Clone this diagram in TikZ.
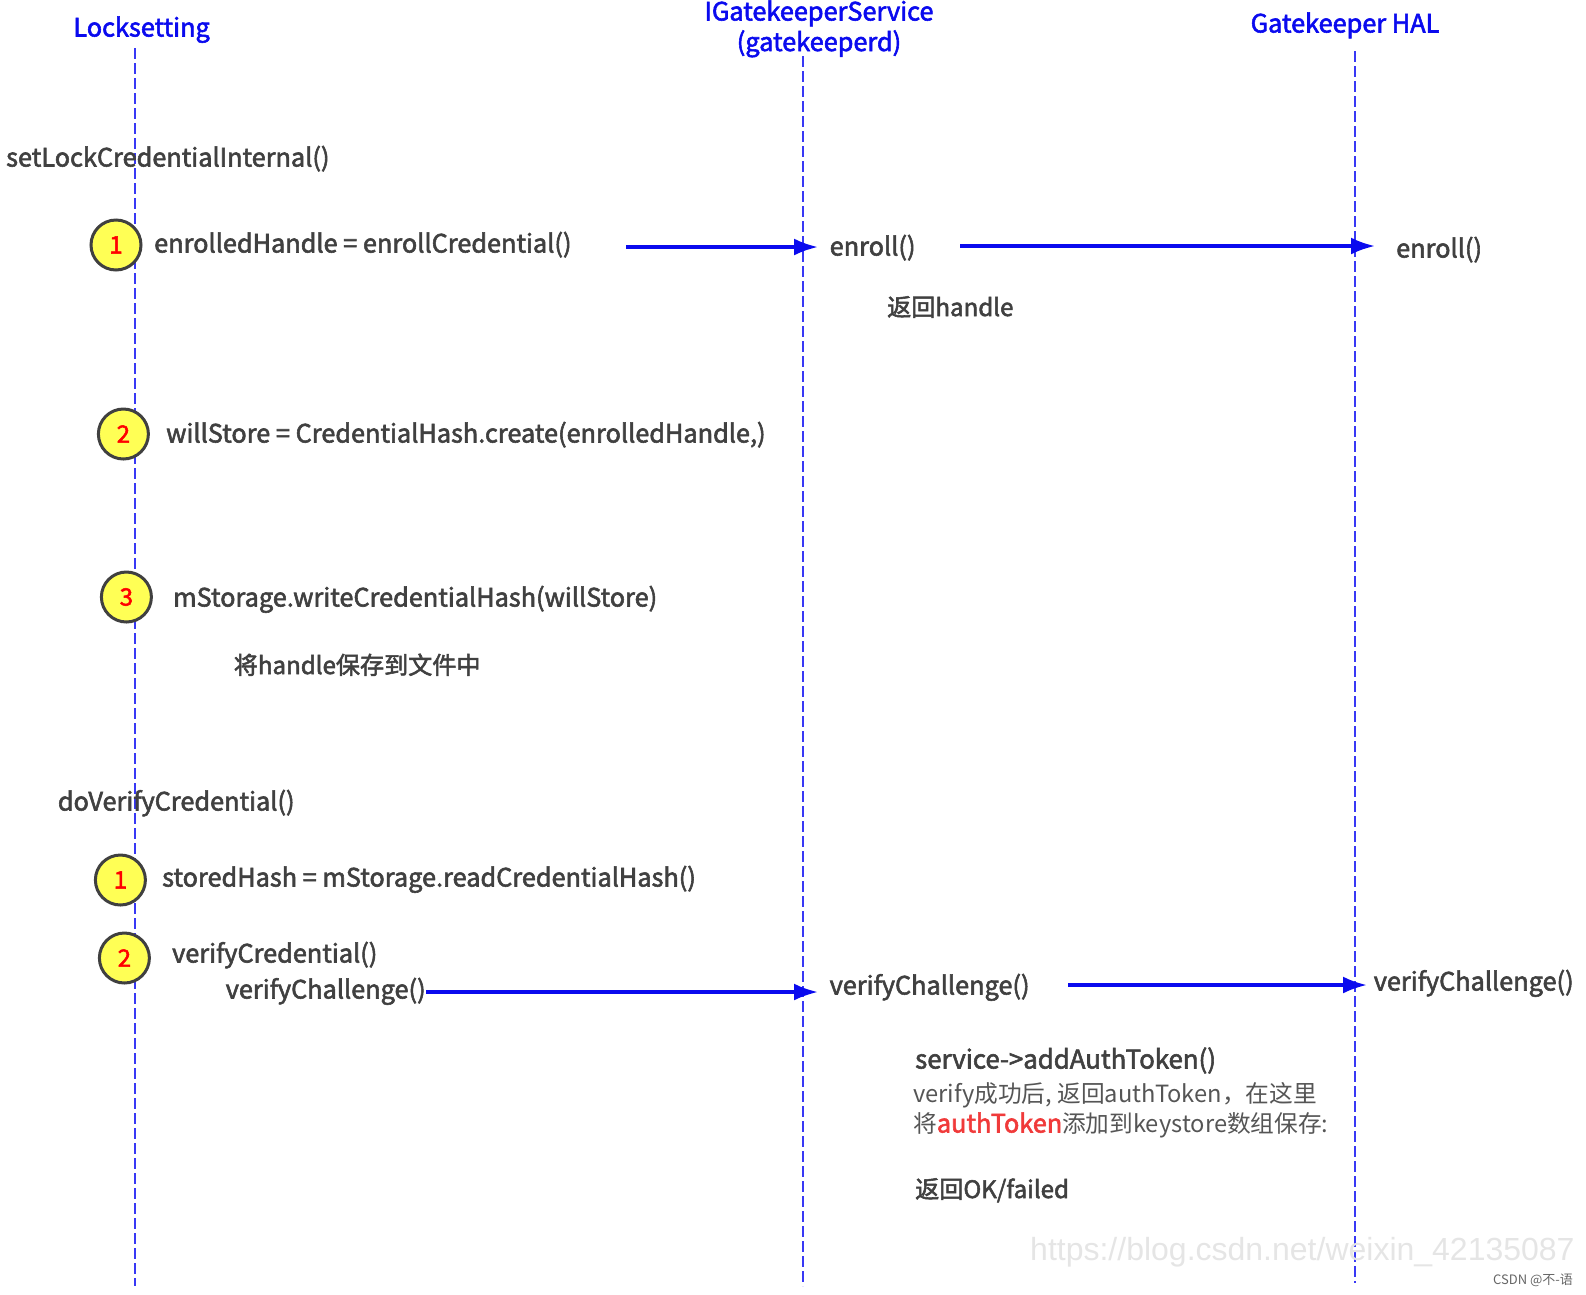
\documentclass[tikz,border=0pt]{standalone}
\usepackage{fontspec}
\setmainfont{Noto Sans CJK SC}
\newfontfamily\boldcjk[FakeBold=2.2]{Noto Sans CJK SC}
\newfontfamily\urlfont{Liberation Sans}
\usetikzlibrary{arrows.meta}
\definecolor{txtgray}{HTML}{404040}
\definecolor{notegray}{HTML}{555555}
\definecolor{lifeblue}{HTML}{3838F5}
\definecolor{headblue}{HTML}{0A0AEE}
\definecolor{markyellow}{HTML}{FFFF55}
\definecolor{tokenred}{HTML}{F03A3A}

\tikzset{
  Msg/.style = {anchor=west, inner sep=0pt, text height=22pt, text depth=3pt, text=txtgray, font=\fontsize{25.3}{25.3}\selectfont\boldcjk},
  MsgCjk/.style = {Msg, font=\fontsize{24.1}{24.1}\selectfont\boldcjk},
  Plain/.style = {Msg, text=notegray, font=\fontsize{23.7}{23.7}\selectfont\rmfamily},
  Head/.style = {inner sep=0pt, text height=22pt, text depth=3pt, text=headblue, font=\fontsize{25.3}{25.3}\selectfont\boldcjk},
  Life/.style = {draw=lifeblue, line width=1.8pt, dash pattern=on 11pt off 4pt},
  Call/.style = {draw=headblue, line width=3.2pt, -{Latex[length=24pt, width=17pt]}},
  Mark/.style = {circle, draw=txtgray, line width=3pt, fill=markyellow, minimum size=50pt, inner sep=0pt, text=red, font=\fontsize{24}{24}\selectfont\boldcjk}
}

\begin{document}
\begin{tikzpicture}[x=1pt, y=-1pt]
   \useasboundingbox (0,0) rectangle (1586,1294);
   % lifelines
   \coordinate (LockTop) at (135,48);
   \coordinate (LockEnd) at (135,1286);
   \coordinate (ServiceTop) at (803,56);
   \coordinate (ServiceEnd) at (803,1286);
   \coordinate (HalTop) at (1355,51);
   \coordinate (HalEnd) at (1355,1283);
   \draw[Life] (LockTop) -- (LockEnd);
   \draw[Life] (ServiceTop) -- (ServiceEnd);
   \draw[Life] (HalTop) -- (HalEnd);
   % headers
   \node[Head] (Locksetting) at (141.6,27) {Locksetting};
   \node[Head] (Service) at (819,11) {IGatekeeperService};
   \node[Head] (Gatekeeperd) at (819,41.5) {(gatekeeperd)};
   \node[Head] (Hal) at (1345,23) {Gatekeeper HAL};
   % set credential
   \node[Msg] (SetLock) at (6,157) {setLockCredentialInternal()};
   \node[Mark] (MarkA) at (116,245) {1};
   \node[Msg] (Enrolled) at (154,243) {enrolledHandle = enrollCredential()};
   \node[Msg] (EnrollSvc) at (829.5,246) {enroll()};
   \node[Msg] (EnrollHal) at (1396,248) {enroll()};
   \node[MsgCjk] (RetHandle) at (887,306.5) {返回handle};
   \node[Mark] (MarkB) at (123.4,434) {2};
   \node[Msg] (WillStore) at (166,433) {willStore = CredentialHash.create(enrolledHandle,)};
   \node[Mark] (MarkC) at (126.4,597) {3};
   \node[Msg] (WriteHash) at (173,597) {mStorage.writeCredentialHash(willStore)};
   \node[MsgCjk] (SaveFile) at (233.6,664.5) {将handle保存到文件中};
   % verify credential
   \node[Msg] (DoVerify) at (57.7,801) {doVerifyCredential()};
   \node[Mark] (MarkD) at (120.4,880) {1};
   \node[Msg] (Stored) at (162,877) {storedHash = mStorage.readCredentialHash()};
   \node[Mark] (MarkE) at (124.4,958) {2};
   \node[Msg] (VerifyCred) at (172,953) {verifyCredential()};
   \node[Msg] (VerifyCall) at (225.6,989) {verifyChallenge()};
   \node[Msg] (VerifySvc) at (829.5,985) {verifyChallenge()};
   \node[Msg] (VerifyHal) at (1373.6,981) {verifyChallenge()};
   \node[Msg, font=\fontsize{25.8}{25.8}\selectfont\boldcjk] (AddToken) at (915,1059) {service->addAuthToken()};
   \node[Plain] (NoteA) at (913,1093) {verify成功后, 返回authToken，在这里};
   \node[Plain] (NoteB) at (913,1123) {将{\fontsize{25.3}{25.3}\selectfont\boldcjk\color{tokenred}authToken}添加到keystore数组保存:};
   \node[MsgCjk] (RetOk) at (915,1188.5) {返回OK/failed};
   % watermarks
   \node[Plain, text=black!10, font=\fontsize{32}{32}\selectfont\urlfont] (Mark) at (1030,1251) {https://blog.csdn.net/weixin\_42135087};
   \node[Plain, text=black!60, font=\fontsize{13}{13}\selectfont\rmfamily] (Csdn) at (1493,1274.5) {CSDN @不-语};
   % calls
   \coordinate (CallA) at (626,247);
   \coordinate (CallAEnd) at (818,247);
   \coordinate (CallB) at (960,246);
   \coordinate (CallBEnd) at (1375,246);
   \coordinate (CallC) at (426,992);
   \coordinate (CallCEnd) at (818,992);
   \coordinate (CallD) at (1068,985);
   \coordinate (CallDEnd) at (1367,985);
   \draw[Call] (CallA) -- (CallAEnd);
   \draw[Call] (CallB) -- (CallBEnd);
   \draw[Call] (CallC) -- (CallCEnd);
   \draw[Call] (CallD) -- (CallDEnd);
\end{tikzpicture}
\end{document}
